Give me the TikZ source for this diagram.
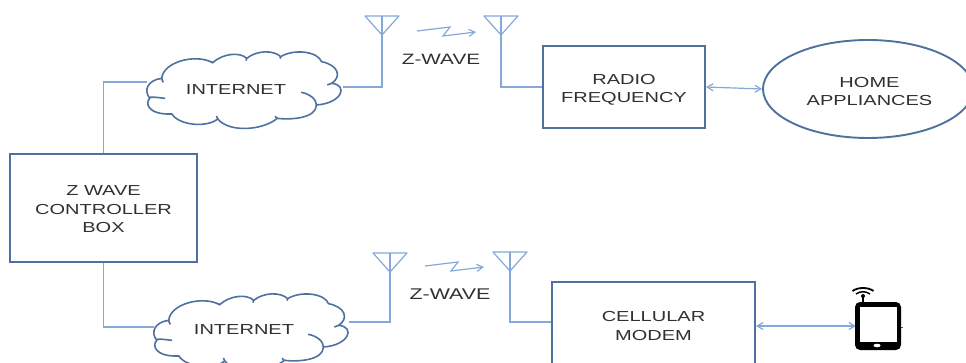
\documentclass[tikz,border=0pt]{standalone}
\usepackage{fontspec}
\setmainfont[FakeStretch=1.38]{Liberation Sans}
\usetikzlibrary{shapes.geometric,arrows.meta}
\definecolor{boxblue}{HTML}{4F719F}
\definecolor{linkblue}{HTML}{84A9D8}
\definecolor{labelgrey}{HTML}{303030}
\newcommand{\cloudoutline}[1]{%
\begin{scope}[shift={(#1)},x=0.3400pt,y=-0.3333pt,cloudline]
\filldraw[fill=white] (-280,31) .. controls (-300,6) and (-285,-24) .. (-245,-29)
 .. controls (-240,-79) and (-145,-104) .. (-95,-76)
 .. controls (-65,-104) and (-15,-109) .. (5,-89)
 .. controls (35,-114) and (85,-114) .. (105,-94)
 .. controls (145,-119) and (215,-109) .. (225,-79)
 .. controls (275,-69) and (285,-34) .. (255,-14)
 .. controls (305,-9) and (285,46) .. (210,51)
 .. controls (210,91) and (135,96) .. (95,91)
 .. controls (55,126) and (-45,136) .. (-80,93)
 .. controls (-115,121) and (-195,111) .. (-215,78)
 .. controls (-285,81) and (-295,46) .. (-280,31) -- cycle;
\draw (-280,28) .. controls (-265,26) and (-250,30) .. (-235,31);
\draw (-245,-29) .. controls (-244,-24) and (-243,-20) .. (-240,-17);
\draw (210,51) .. controls (211,35) and (190,17) .. (165,13);
\draw (255,-14) -- (242,-9);
\draw (-95,-76) -- (-100,-79);
\draw (5,-89) -- (3,-82);
\draw (105,-94) -- (103,-88);
\draw (95,91) -- (88,85);
\draw (-80,93) -- (-84,84);
\end{scope}}
\tikzset{
 x=1pt,y=-1pt,
 every node/.style={text=labelgrey,font=\fontsize{14.5}{18.2}\selectfont,align=center},
 boxnode/.style={draw=boxblue,line width=1.9pt,fill=white,inner sep=0pt},
 cloudline/.style={draw=boxblue,line width=1.6pt},
 link/.style={draw=linkblue,line width=1.2pt},
 twoway/.style={link,{Straight Barb[length=6pt,width=7pt]}-{Straight Barb[length=6pt,width=7pt]}},
 zigzag/.style={link,-{Straight Barb[length=6pt,width=7pt]}},
 cloudbox/.style={minimum width=196pt,minimum height=76pt,inner sep=0pt}
}
\begin{document}
\begin{tikzpicture}
\useasboundingbox (0,0) rectangle (966,363);
\clip (0,0) rectangle (966,363);
% boxes
\node[boxnode,minimum width=187pt,minimum height=108pt] (ctrl) at (103.5,208) {\rule{0pt}{12.4pt}Z WAVE\\CONTROLLER\\BOX};
\node[boxnode,minimum width=162pt,minimum height=82pt] (rf) at (624,87) {\rule{0pt}{16.4pt}RADIO\\FREQUENCY};
\node[boxnode,minimum width=203pt,minimum height=88pt] (modem) at (653.5,326) {CELLULAR\\MODEM};
\node[boxnode,ellipse,minimum width=210pt,minimum height=98pt] (home) at (868,89) {\hspace*{3pt}\rule{0pt}{14.4pt}HOME\\\hspace*{3pt}APPLIANCES};
% clouds
\cloudoutline{245,88}
\node[cloudbox] (cloudA) at (245,88) {\rule{0pt}{12.4pt}INTERNET\hspace*{18pt}};
\cloudoutline{252,330}
\node[cloudbox] (cloudB) at (252,328) {\rule{0pt}{12.4pt}INTERNET\hspace*{16pt}};
% antenna tips
\coordinate (antA) at (382,35);
\coordinate (antB) at (501,35);
\coordinate (antC) at (390,272);
\coordinate (antD) at (510,271);
\foreach \a in {antA,antB,antC,antD}{
 \draw[link,line join=round] (\a) -- ++(-17,-19) -- ++(34,0) -- cycle;
 \draw[link] (\a) -- ++(0,-19);
}
% connectors
\coordinate (phoneL) at (856,326);
\draw[link] (ctrl.north) |- ([yshift=6pt]cloudA.west);
\draw[link] (ctrl.south) |- ([yshift=1pt]cloudB.west);
\draw[link] ([yshift=1pt]cloudA.east) -| (antA);
\draw[link] (antB) |- (rf.west);
\draw[link] ([xshift=-1pt,yshift=6pt]cloudB.east) -| (antC);
\draw[link] (antD) |- ([yshift=4pt]modem.west);
\draw[twoway] (rf.east) -- (home.west);
\draw[twoway] (modem.east |- phoneL) -- (phoneL);
% wireless marks
\coordinate (zaS) at (417,31); \coordinate (zaE) at (476,32);
\coordinate (zbS) at (425,266); \coordinate (zbE) at (484,267);
\draw[zigzag] (zaS) -- (450,27) -- (443,36) -- (zaE);
\draw[zigzag] (zbS) -- (458,262) -- (451,271) -- (zbE);
\node[font=\fontsize{15}{18}\selectfont] (waveA) at (441,59.5) {Z-WAVE};
\node[font=\fontsize{15.5}{18}\selectfont] (waveB) at (450,294) {Z-WAVE};
% phone
\fill[black,rounded corners=5pt] (855,302) rectangle (901,350);
\fill[white] (859.5,307) rectangle (897,342);
\fill[white] (877,345.5) ellipse (3.5pt and 1.8pt);
\fill[black!70] (901,326.5) rectangle (903,328);
\draw[black,line width=1.6pt] (863,302) -- (863,295);
\draw[black,line width=1.8pt] (852.5,291) .. controls (858,287) and (868,287) .. (873.5,291);
\draw[black,line width=1.5pt] (856,294) .. controls (860,291) and (866,291) .. (870,294);
\fill[black] (863,296) circle (2pt);
\end{tikzpicture}
\end{document}
